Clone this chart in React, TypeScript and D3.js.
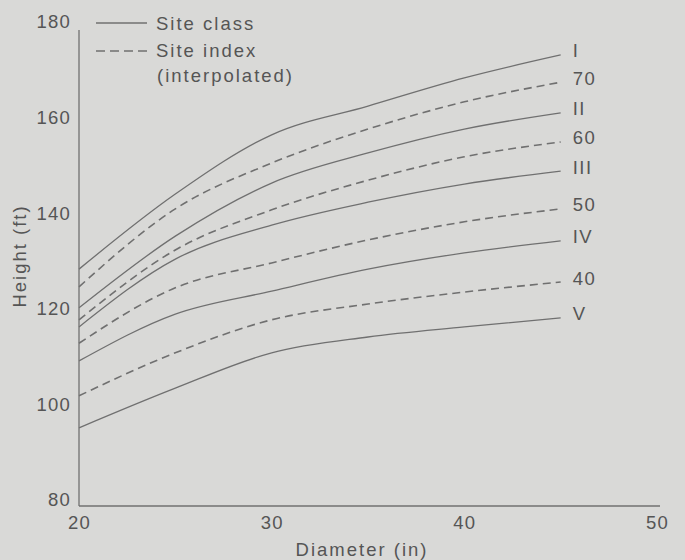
import React, { useEffect, useRef } from 'react';
import * as d3 from 'd3';

const diameters = [20, 25, 30, 35, 40, 45];

// site class curves (solid)
const siteClassNames = ['I', 'II', 'III', 'IV', 'V'];
const classI = [128.3, 144.0, 156.4, 162.4, 168.3, 173.1];
const classII = [120.2, 135.2, 146.3, 152.6, 157.6, 161.0];
const classIII = [116.2, 130.4, 137.5, 142.3, 146.1, 148.8];
const classIV = [109.1, 118.9, 123.7, 128.3, 131.7, 134.2];
const classV = [95.1, 103.4, 110.8, 114.1, 116.2, 118.1];

// site index curves (dashed, interpolated)
const siteIndexNames = ['70', '60', '50', '40'];
const index70 = [124.6, 140.9, 150.5, 157.6, 163.3, 167.4];
const index60 = [117.7, 132.3, 140.7, 146.9, 151.8, 154.9];
const index50 = [112.8, 124.4, 129.6, 134.4, 138.2, 140.9];
const index40 = [101.8, 110.8, 117.7, 121.0, 123.5, 125.6];

const xTicks = [20, 30, 40, 50];
const yTicks = [80, 100, 120, 140, 160, 180];

const W = 685;
const H = 560;
const FONT = '"Liberation Sans", Arial, sans-serif';
const INK = '#555';
const LINE = '#707070';

const App = () => {
  const svgRef = useRef<SVGSVGElement>(null);

  useEffect(() => {
    const svg = d3.select(svgRef.current);
    svg.selectAll('*').remove();

    svg.append('rect').attr('width', W).attr('height', H).attr('fill', '#d9d9d7');

    const x = d3.scaleLinear().domain([20, 50]).range([79, 657]);
    const y = d3.scaleLinear().domain([80, 180]).range([500, 22]);
    const axisY = y(80) + 6;

    // axes lines
    svg.append('line')
      .attr('x1', x(20)).attr('x2', x(20))
      .attr('y1', 30).attr('y2', axisY)
      .attr('stroke', LINE).attr('stroke-width', 1.3);
    svg.append('line')
      .attr('x1', x(20)).attr('x2', 660)
      .attr('y1', axisY).attr('y2', axisY)
      .attr('stroke', LINE).attr('stroke-width', 1.3);

    const xAxis = svg.append('g')
      .attr('transform', `translate(0,${axisY})`)
      .call(d3.axisBottom(x).tickValues(xTicks).tickSize(0).tickPadding(10));
    const yAxis = svg.append('g')
      .attr('transform', `translate(${x(20)},0)`)
      .call(d3.axisLeft(y).tickValues(yTicks).tickSize(0).tickPadding(8));
    [xAxis, yAxis].forEach(g => {
      g.select('.domain').remove();
      g.selectAll('text')
        .attr('fill', INK)
        .attr('font-family', FONT)
        .attr('font-size', 18.5)
        .attr('letter-spacing', 1.2);
    });

    // axis titles
    svg.append('text')
      .attr('x', 362).attr('y', 556)
      .attr('text-anchor', 'middle')
      .attr('font-family', FONT).attr('font-size', 18.5).attr('letter-spacing', 2)
      .attr('fill', INK)
      .text('Diameter (in)');
    svg.append('text')
      .attr('transform', 'translate(26,256) rotate(-90)')
      .attr('text-anchor', 'middle')
      .attr('font-family', FONT).attr('font-size', 18.5).attr('letter-spacing', 2)
      .attr('fill', INK)
      .text('Height (ft)');

    const line = d3.line<number>()
      .x((d, i) => x(diameters[i]))
      .y(d => y(d))
      .curve(d3.curveMonotoneX);

    const classes = [classI, classII, classIII, classIV, classV];
    const indexes = [index70, index60, index50, index40];

    const drawSeries = (series: number[][], names: string[], dashed: boolean) => {
      series.forEach((vals, k) => {
        svg.append('path')
          .attr('d', line(vals))
          .attr('fill', 'none')
          .attr('stroke', LINE)
          .attr('stroke-width', dashed ? 1.6 : 1.3)
          .attr('stroke-dasharray', dashed ? '8,5' : null);
        const last = vals[vals.length - 1];
        svg.append('text')
          .attr('x', x(diameters[diameters.length - 1]) + 12)
          .attr('y', y(last) - 4)
          .attr('dominant-baseline', 'central')
          .attr('font-family', FONT).attr('font-size', 18.5).attr('letter-spacing', 1.5)
          .attr('fill', INK)
          .text(names[k]);
      });
    };
    drawSeries(classes, siteClassNames, false);
    drawSeries(indexes, siteIndexNames, true);

    // legend
    const legend = svg.append('g');
    legend.append('line')
      .attr('x1', 96).attr('x2', 147).attr('y1', 23).attr('y2', 23)
      .attr('stroke', LINE).attr('stroke-width', 1.3);
    legend.append('line')
      .attr('x1', 96).attr('x2', 148).attr('y1', 51).attr('y2', 51)
      .attr('stroke', LINE).attr('stroke-width', 1.6)
      .attr('stroke-dasharray', '9,5');
    const legendText = [
      { t: 'Site class', x: 156, y: 30 },
      { t: 'Site index', x: 156, y: 57 },
      { t: '(interpolated)', x: 157, y: 82 },
    ];
    legend.selectAll('text')
      .data(legendText)
      .enter()
      .append('text')
      .attr('x', d => d.x)
      .attr('y', d => d.y)
      .attr('font-family', FONT).attr('font-size', 18.5).attr('letter-spacing', 2)
      .attr('fill', INK)
      .text(d => d.t);
  }, []);

  return (
    <div style={{ position: 'fixed', left: 0, top: 0 }}>
      <svg ref={svgRef} width={W} height={H} style={{ display: 'block' }} />
    </div>
  );
};

export default App;
